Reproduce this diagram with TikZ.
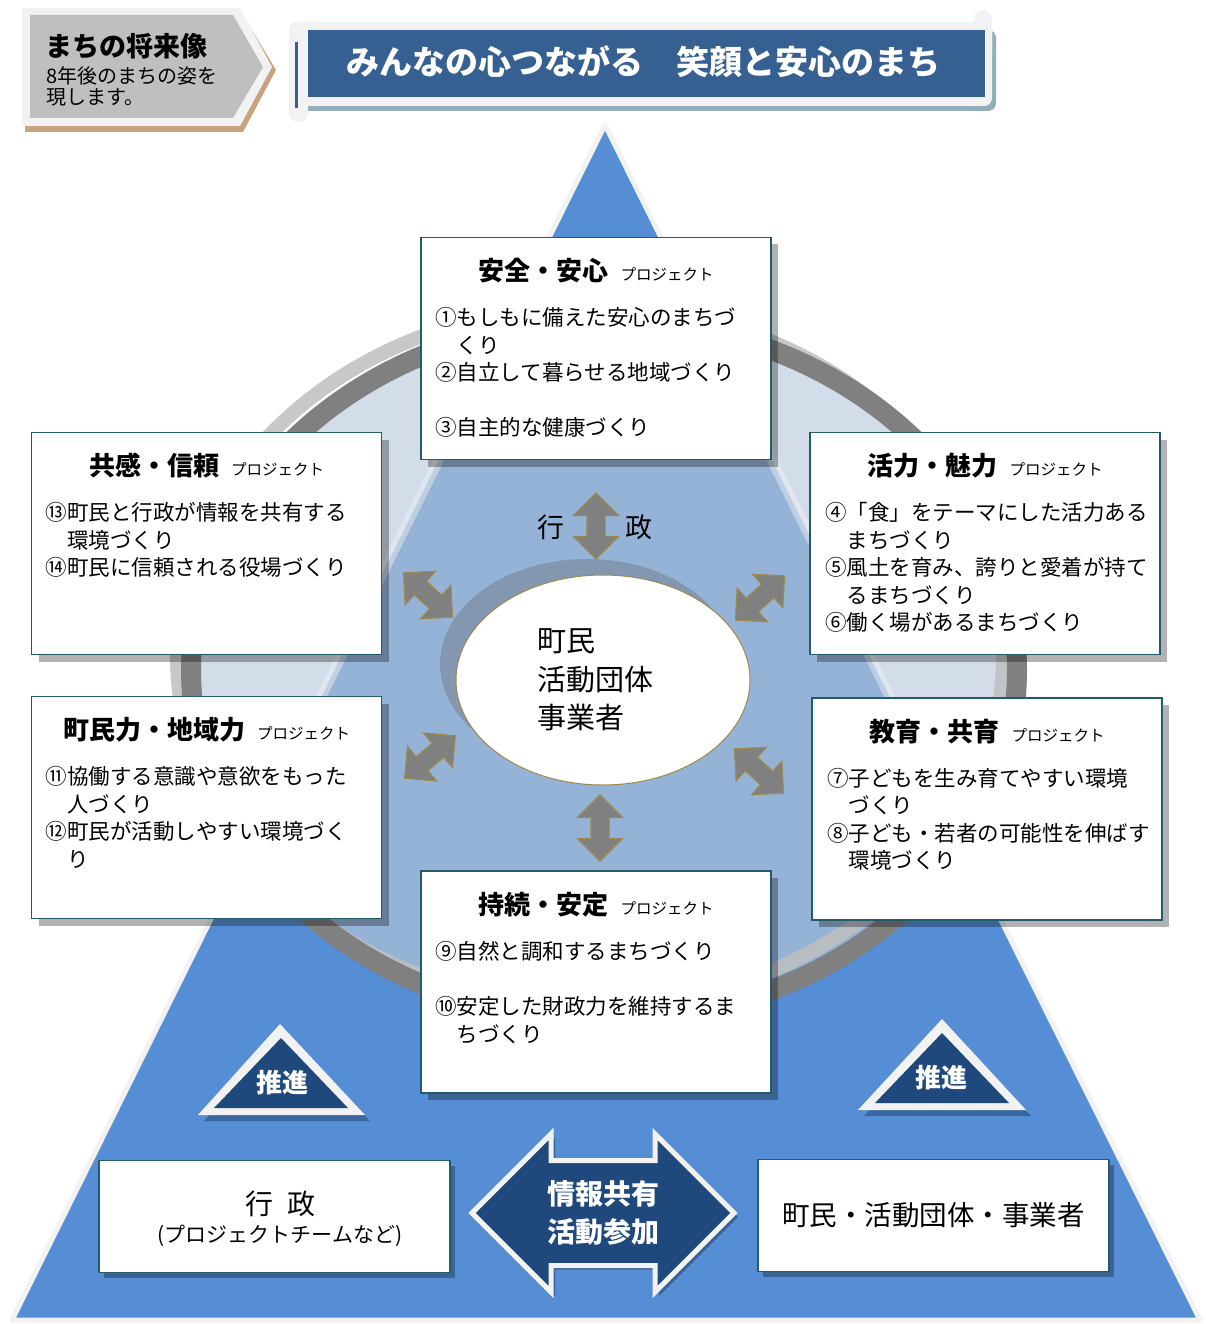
\documentclass[tikz,border=0pt]{standalone}
\usepackage{fontspec}
\setmainfont{Noto Sans CJK JP}
\usetikzlibrary{shapes,arrows,positioning,shadows}

\definecolor{triblue}{HTML}{558ED5}
\definecolor{inblue}{HTML}{95B3D7}
\definecolor{ringin}{HTML}{D3DDE9}
\definecolor{ringdark}{HTML}{808080}
\definecolor{ringlight}{HTML}{BFBFBF}
\definecolor{navy}{HTML}{1F497D}
\definecolor{banner}{HTML}{366092}
\definecolor{boxline}{HTML}{245B6B}
\definecolor{frame}{HTML}{F2F2F2}
\definecolor{tan}{HTML}{C9A27E}
\definecolor{arrgold}{HTML}{9C8A4E}
\definecolor{eshadow}{HTML}{8497B0}
\definecolor{bshadow}{HTML}{93AEB8}
\definecolor{pshadow}{HTML}{3A67A0}

\begin{document}
\begin{tikzpicture}[x=1pt, y=-1pt,
          prj/.style={rectangle, draw=boxline, line width=1.8pt, fill=white, minimum width=350pt, minimum height=222pt, inner sep=0pt, drop shadow={shadow xshift=7pt, shadow yshift=-7pt, fill=black, opacity=0.3}},
          ttl/.style={font=\fontsize{26}{30}\selectfont\bfseries, inner sep=0pt, anchor=base},
          items/.style={font=\fontsize{21.5}{27.5}\selectfont, align=left, inner sep=0pt, anchor=north west},
          dbl/.style={double arrow, double arrow head extend=13.5pt, inner xsep=0pt, inner ysep=8.5pt, minimum height=66pt, fill=ringdark, draw=arrgold, line width=1.2pt},
          wbox/.style={rectangle, draw=boxline, line width=1.8pt, fill=white, minimum width=351pt, minimum height=112pt, inner sep=0pt, drop shadow={shadow xshift=5pt, shadow yshift=-5pt, fill=black, opacity=0.3}}]

          \fill[white] (0,0) rectangle (1205,1324);
          \useasboundingbox (0,0) rectangle (1205,1324);

          % header
          \fill[tan] (25,15) -- (243,15) -- (276,70) -- (243,132) -- (25,132) -- cycle;
          \fill[frame] (22,8) -- (240,8) -- (272,67) -- (240,126) -- (22,126) -- cycle;
          \fill[ringlight] (30,15) -- (233,15) -- (263,67) -- (233,118) -- (30,118) -- cycle;
          \node[anchor=base west, inner sep=0pt, font=\fontsize{27}{30}\selectfont\bfseries] (vision) at (45,57) {まちの将来像};
          \node[anchor=north west, inner sep=0pt, align=left, font=\fontsize{20}{21}\selectfont] (vision-sub) at (46,66) {8年後のまちの姿を\\現します。};

          \fill[bshadow, rounded corners=8pt] (293,30) rectangle (996,111);
          \fill[frame, rounded corners=8pt] (289,22) rectangle (992,106);
          \fill[frame, rounded corners=9pt] (289,22) rectangle (308,122);
          \fill[frame, rounded corners=9pt] (974,10) rectangle (992,60);
          \fill[banner] (308,30) rectangle (985,97);
          \draw[banner, line width=3pt] (296,42) -- (296,108);
          \node[text=white, font=\fontsize{33}{36}\selectfont\bfseries] (motto) at (643,62) {みんなの心つながる　笑顔と安心のまち};

          % pyramid and ring
          \filldraw[fill=triblue, draw=frame, line width=5pt, line join=round] (605,125) -- (1200,1320) -- (12,1320) -- cycle;
          \fill[ringin] (604,670) ellipse [x radius=413, y radius=350];
          \begin{scope}
            \clip (604,670) ellipse [x radius=413, y radius=350];
            \fill[inblue] (605,125) -- (1200,1320) -- (12,1320) -- cycle;
            \draw[frame, line width=10pt, opacity=0.45] (605,125) -- (1200,1320) -- (12,1320) -- cycle;
          \end{scope}
          \draw[ringlight, line width=14pt, opacity=0.85] (590,656) ellipse [x radius=413, y radius=350];
          \draw[ringdark, line width=20pt] (604,670) ellipse [x radius=413, y radius=350];

          % centre
          \fill[eshadow] (587,664) ellipse [x radius=147, y radius=105];
          \node[ellipse, draw=arrgold, line width=1pt, fill=white, minimum width=294pt, minimum height=210pt] (resident) at (603,680) {};
          \node[anchor=west, inner sep=0pt, align=left, font=\fontsize{29}{38.5}\selectfont] (resident-t) at (537,680) {町民\\活動団体\\事業者};
          \node[font=\fontsize{27}{30}\selectfont] (gyo) at (551,527) {行};
          \node[font=\fontsize{27}{30}\selectfont] (sei) at (639,527) {政};

          \node[dbl, rotate=90] (a-top) at (596,526) {};
          \node[dbl, rotate=90] (a-bottom) at (600,828) {};
          \node[dbl, rotate=-42] (a-ul) at (428,595) {};
          \node[dbl, rotate=42] (a-ur) at (760,598) {};
          \node[dbl, rotate=40] (a-ll) at (430,757) {};
          \node[dbl, rotate=-42] (a-lr) at (759,771) {};

          % projects
          \node[prj] (anzen) at (596,348.5) {};
          \node[ttl] (anzen-t) at ([yshift=-44pt]anzen.north) {安全・安心\hspace{12pt}{\fontsize{15.5}{18}\selectfont\mdseries プロジェクト}};
          \node[items] (anzen-i) at ([xshift=15pt, yshift=-71pt]anzen.north west) {①もしもに備えた安心のまちづ\\\hspace{1em}くり\\②自立して暮らせる地域づくり\\[27.5pt]③自主的な健康づくり};

          \node[prj] (kyokan) at (206.5,543.5) {};
          \node[ttl] (kyokan-t) at ([yshift=-44pt]kyokan.north) {共感・信頼\hspace{12pt}{\fontsize{15.5}{18}\selectfont\mdseries プロジェクト}};
          \node[items] (kyokan-i) at ([xshift=15pt, yshift=-71pt]kyokan.north west) {⑬町民と行政が情報を共有する\\\hspace{1em}環境づくり\\⑭町民に信頼される役場づくり};

          \node[prj] (chomin) at (206.5,807.5) {};
          \node[ttl] (chomin-t) at ([yshift=-44pt]chomin.north) {町民力・地域力\hspace{12pt}{\fontsize{15.5}{18}\selectfont\mdseries プロジェクト}};
          \node[items] (chomin-i) at ([xshift=15pt, yshift=-71pt]chomin.north west) {⑪協働する意識や意欲をもった\\\hspace{1em}人づくり\\⑫町民が活動しやすい環境づく\\\hspace{1em}り};

          \node[prj] (katsu) at (985,543.5) {};
          \node[ttl] (katsu-t) at ([yshift=-44pt]katsu.north) {活力・魅力\hspace{12pt}{\fontsize{15.5}{18}\selectfont\mdseries プロジェクト}};
          \node[items] (katsu-i) at ([xshift=16pt, yshift=-71pt]katsu.north west) {④「食」をテーマにした活力ある\\\hspace{1em}まちづくり\\⑤風土を育み、誇りと愛着が持て\\\hspace{1em}るまちづくり\\⑥働く場があるまちづくり};

          \node[prj] (kyoiku) at (987,809) {};
          \node[ttl] (kyoiku-t) at ([yshift=-44pt]kyoiku.north) {教育・共育\hspace{12pt}{\fontsize{15.5}{18}\selectfont\mdseries プロジェクト}};
          \node[items] (kyoiku-i) at ([xshift=16pt, yshift=-71pt]kyoiku.north west) {⑦子どもを生み育てやすい環境\\\hspace{1em}づくり\\⑧子ども・若者の可能性を伸ばす\\\hspace{1em}環境づくり};

          \node[prj] (jizoku) at (596,982) {};
          \node[ttl] (jizoku-t) at ([yshift=-44pt]jizoku.north) {持続・安定\hspace{12pt}{\fontsize{15.5}{18}\selectfont\mdseries プロジェクト}};
          \node[items] (jizoku-i) at ([xshift=15pt, yshift=-71pt]jizoku.north west) {⑨自然と調和するまちづくり\\[27.5pt]⑩安定した財政力を維持するま\\\hspace{1em}ちづくり};

          % promotion
          \fill[pshadow] (283,1033) -- (370,1121) -- (204,1121) -- cycle;
          \fill[frame] (280,1024) -- (365,1115) -- (198,1115) -- cycle;
          \fill[navy] (281,1038) -- (348,1108) -- (214,1108) -- cycle;
          \node[text=white, font=\fontsize{26}{30}\selectfont\bfseries] (push-l) at (282,1083) {推進};

          \fill[pshadow] (945,1029) -- (1031,1116) -- (864,1116) -- cycle;
          \fill[frame] (942,1019) -- (1026,1110) -- (858,1110) -- cycle;
          \fill[navy] (942,1033) -- (1009,1103) -- (875,1103) -- cycle;
          \node[text=white, font=\fontsize{26}{30}\selectfont\bfseries] (push-r) at (941,1078) {推進};

          \node[wbox] (gov) at (274.5,1216.5) {};
          \node[font=\fontsize{28}{32}\selectfont] (gov-t) at (280,1204) {行\hspace{0.5em}政};
          \node[font=\fontsize{21}{24}\selectfont] (gov-s) at (280,1236) {(プロジェクトチームなど)};

          \node[wbox] (people) at (933.5,1215.5) {};
          \node[font=\fontsize{27.5}{32}\selectfont] (people-t) at (people) {町民・活動団体・事業者};

          \node[double arrow, double arrow head extend=26.5pt, inner xsep=0pt, inner ysep=50pt, minimum height=262pt, fill=navy, draw=frame, line width=5pt, drop shadow={shadow xshift=4pt, shadow yshift=-4pt, fill=black, opacity=0.3}] (share) at (603,1213) {};
          \node[text=white, align=center, font=\fontsize{28}{38}\selectfont\bfseries] (share-t) at (share) {情報共有\\活動参加};
        \end{tikzpicture}
\end{document}
